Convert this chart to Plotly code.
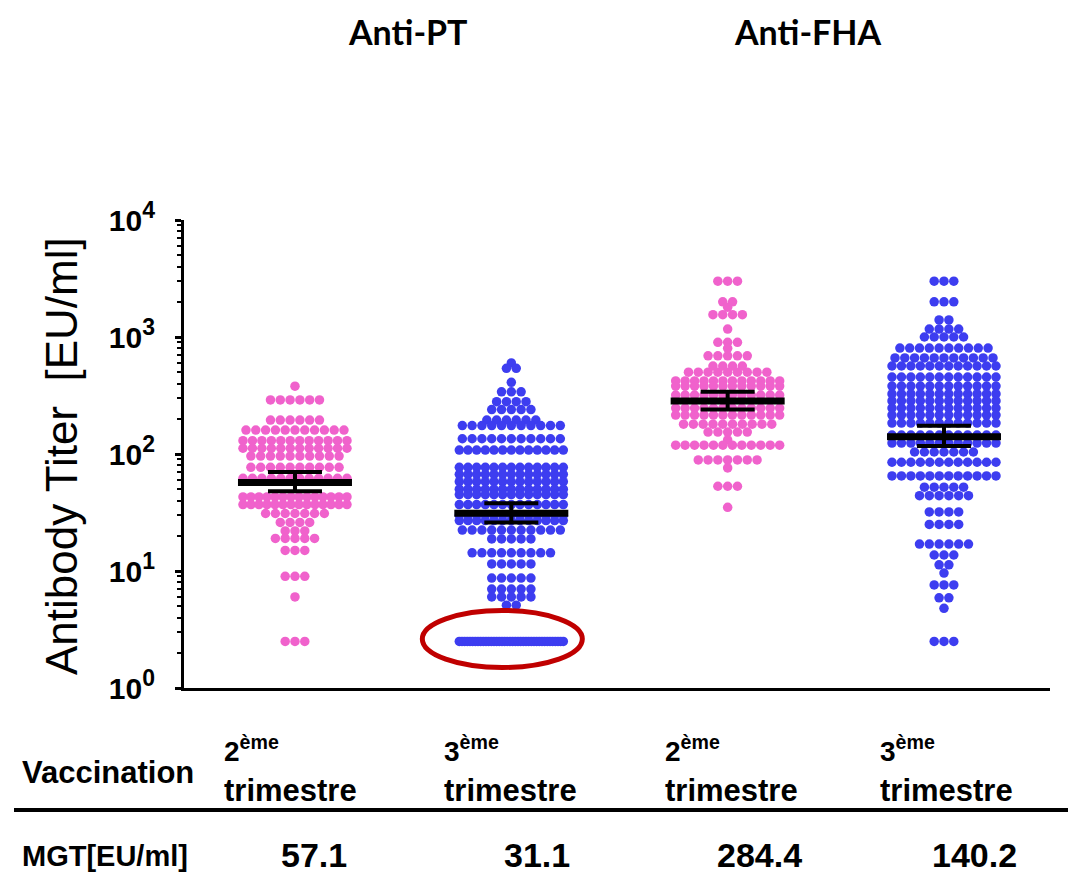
import math
import plotly.graph_objects as go

# ---------------- data ----------------
group_positions = [1, 2, 3, 4]
group_colors = ["#F062CC", "#3D3DF0", "#F062CC", "#3D3DF0"]
panel_titles = ["Anti-PT", "Anti-FHA"]
trimester_numbers = ["2", "3", "2", "3"]

# Anti-PT, 2eme trimestre
pt_2nd_values = [380, 290, 195, 160, 130, 112, 96, 77, 62, 43, 37, 31, 26, 22, 19, 15, 9, 6, 2.5]
pt_2nd_counts = [1, 6, 6, 11, 12, 12, 10, 10, 12, 14, 14, 7, 4, 3, 5, 3, 3, 1, 3]

# Anti-PT, 3eme trimestre
pt_3rd_values = [600, 540, 410, 340, 280, 240, 195, 175, 135, 108, 77, 67, 58, 50, 45, 37, 30, 27,
                 22.4, 18.8, 14.3, 11.5, 8.7, 7.0, 6.0, 5.1, 2.5]
pt_3rd_counts = [1, 2, 1, 3, 4, 5, 6, 11, 11, 13, 13, 13, 13, 13, 13, 13, 13, 13,
                 11, 5, 9, 5, 5, 5, 5, 2, 40]

# Anti-FHA, 2eme trimestre
fha_2nd_values = [3000, 2000, 1800, 1550, 1170, 900, 800, 690, 565, 500, 421, 381, 319, 247, 215,
                  180, 154, 132, 119, 89, 76, 53, 35]
fha_2nd_counts = [3, 2, 1, 4, 1, 3, 1, 5, 4, 9, 12, 12, 12, 12, 12,
                  10, 5, 1, 12, 7, 1, 3, 1]

# Anti-FHA, 3eme trimestre
fha_3rd_values = [3000, 2000, 1400, 1170, 1000, 805, 662, 565, 455, 381, 326, 284, 247, 215, 184,
                  145, 124, 104, 85, 65, 52, 44, 32, 25, 17, 13.7, 11.3, 9.6, 7.6, 5.9, 4.8, 2.5]
fha_3rd_counts = [3, 3, 2, 4, 5, 10, 11, 12, 12, 12, 12, 12, 12, 12, 12,
                  12, 12, 7, 12, 12, 5, 6, 4, 4, 6, 3, 2, 1, 3, 2, 1, 3]

# geometric mean titers and their confidence interval
mgt_values = [57.1, 31.1, 284.4, 140.2]
ci_lower = [48, 26, 240, 117]
ci_upper = [70, 38, 340, 174]
lod_value = 2.5

group_values = [pt_2nd_values, pt_3rd_values, fha_2nd_values, fha_3rd_values]
group_counts = [pt_2nd_counts, pt_3rd_counts, fha_2nd_counts, fha_3rd_counts]

# ---------------- layout constants ----------------
W, H = 1068, 873
PLOT_L, PLOT_R, PLOT_T, PLOT_B = 184, 1050, 220, 688
X_MIN, X_MAX = 0.487, 4.49
Y_DECADES = 4.0
PX_PER_UNIT = (PLOT_R - PLOT_L) / (X_MAX - X_MIN)
PX_PER_DECADE = (PLOT_B - PLOT_T) / Y_DECADES

DOT_SIZE = 9.5
DOT_STEP_PX = 9.8
ROW_MAX_WIDTH_PX = 104
MEAN_HALF_PX = 57
CAP_HALF_PX = 27

FONT = "Liberation Sans, Arial, sans-serif"
TITLE_FONT = "Comic Sans MS, Lato, DejaVu Sans, sans-serif"


def px_x(px):
    return (px - PLOT_L) / (PLOT_R - PLOT_L)


def px_y(py):
    return (PLOT_B - py) / (PLOT_B - PLOT_T)


def swarm(pos, values, counts):
    xs, ys = [], []
    for v, n in zip(values, counts):
        step = DOT_STEP_PX if n < 2 else min(DOT_STEP_PX, ROW_MAX_WIDTH_PX / (n - 1))
        for k in range(n):
            xs.append(pos + (k - (n - 1) / 2.0) * step / PX_PER_UNIT)
            ys.append(v)
    return xs, ys


fig = go.Figure()

for pos, vals, cnts, col in zip(group_positions, group_values, group_counts, group_colors):
    xs, ys = swarm(pos, vals, cnts)
    fig.add_trace(go.Scatter(x=xs, y=ys, mode="markers",
                             marker=dict(size=DOT_SIZE, color=col, line=dict(width=0)),
                             hoverinfo="skip", showlegend=False))

# mean lines
for pos, m in zip(group_positions, mgt_values):
    hw = MEAN_HALF_PX / PX_PER_UNIT
    fig.add_trace(go.Scatter(x=[pos - hw, pos + hw], y=[m, m], mode="lines",
                             line=dict(color="black", width=7),
                             hoverinfo="skip", showlegend=False))

# confidence interval error bars
fig.add_trace(go.Scatter(
    x=group_positions, y=mgt_values, mode="markers",
    marker=dict(size=1, color="black"),
    error_y=dict(type="data", symmetric=False,
                 array=[u - m for u, m in zip(ci_upper, mgt_values)],
                 arrayminus=[m - l for l, m in zip(ci_lower, mgt_values)],
                 color="black", thickness=4, width=CAP_HALF_PX),
    hoverinfo="skip", showlegend=False))

# ---------------- annotations ----------------
ann = []
title_x_px = [408, 808]
for t, xp in zip(panel_titles, title_x_px):
    ann.append(dict(text="<b>%s</b>" % t, x=px_x(xp), y=px_y(31), xref="paper", yref="paper",
                    xanchor="center", yanchor="middle", showarrow=False,
                    font=dict(family=TITLE_FONT, size=34, color="black")))

ann.append(dict(text="Antibody Titer\u00a0\u00a0[EU/ml]", x=px_x(61), y=px_y(456),
                xref="paper", yref="paper", xanchor="center", yanchor="middle",
                textangle=-90, showarrow=False,
                font=dict(family=FONT, size=44, color="black")))

ann.append(dict(text="<b>Vaccination</b>", x=px_x(20), y=px_y(772), xref="paper", yref="paper",
                xanchor="left", yanchor="middle", showarrow=False,
                font=dict(family=FONT, size=31, color="black")))

header_shift_px = [-73, -69, -65, -66]
for pos, num, sh in zip(group_positions, trimester_numbers, header_shift_px):
    ann.append(dict(text="<b>%s<sup>ème</sup></b>" % num, x=pos, xref="x", xshift=sh,
                    y=px_y(749), yref="paper", xanchor="left", yanchor="middle",
                    showarrow=False, font=dict(family=FONT, size=28, color="black")))
    ann.append(dict(text="<b>trimestre</b>", x=pos, xref="x", xshift=sh,
                    y=px_y(790), yref="paper", xanchor="left", yanchor="middle",
                    showarrow=False, font=dict(family=FONT, size=31, color="black")))

ann.append(dict(text="<b>MGT[EU/ml]</b>", x=px_x(20), y=px_y(856), xref="paper", yref="paper",
                xanchor="left", yanchor="middle", showarrow=False,
                font=dict(family=FONT, size=29, color="black")))

mgt_shift_px = [19, 26, 32, 31]
for pos, m, sh in zip(group_positions, mgt_values, mgt_shift_px):
    ann.append(dict(text="<b>%.1f</b>" % m, x=pos, xref="x", xshift=sh,
                    y=px_y(855), yref="paper", xanchor="center", yanchor="middle",
                    showarrow=False, font=dict(family=FONT, size=34, color="black")))

# ---------------- shapes ----------------
lod_paper = math.log10(lod_value) / Y_DECADES
shapes = [
    dict(type="line", xref="paper", yref="paper", x0=px_x(14), x1=px_x(1068),
         y0=px_y(810), y1=px_y(810), line=dict(color="black", width=4)),
    dict(type="circle", xref="x", yref="paper", layer="above",
         x0=group_positions[1] - 89 / PX_PER_UNIT, x1=group_positions[1] + 71 / PX_PER_UNIT,
         y0=lod_paper - 26 / (PLOT_B - PLOT_T), y1=lod_paper + 31 / (PLOT_B - PLOT_T),
         line=dict(color="#C00000", width=5), fillcolor="rgba(0,0,0,0)"),
]

major_vals = [10 ** e for e in range(5)]
major_text = ["10<sup><span style='font-size:23px'>%d</span></sup>" % e for e in range(5)]
minor_vals = [m * 10 ** e for e in range(4) for m in range(2, 10)]

fig.update_layout(
    width=W, height=H, template="none",
    paper_bgcolor="white", plot_bgcolor="white",
    margin=dict(l=PLOT_L, r=W - PLOT_R, t=PLOT_T, b=H - PLOT_B, pad=0, autoexpand=False),
    showlegend=False,
    xaxis=dict(range=[X_MIN, X_MAX], showline=True, linecolor="black", linewidth=3,
               showticklabels=False, ticks="", showgrid=False, zeroline=False),
    yaxis=dict(type="log", range=[0, Y_DECADES], showline=True, linecolor="black", linewidth=3,
               ticks="outside", ticklen=6, tickwidth=3, tickcolor="black",
               tickmode="array", tickvals=major_vals, ticktext=major_text,
               tickfont=dict(family=FONT, size=30, color="black", weight="bold"),
               ticklabelstandoff=14,
               showgrid=False, zeroline=False, automargin=False,
               minor=dict(tickmode="array", tickvals=minor_vals, ticks="outside",
                          ticklen=4, tickwidth=2, tickcolor="black", showgrid=False)),
    annotations=ann,
    shapes=shapes,
)

fig.write_html("out.html")
